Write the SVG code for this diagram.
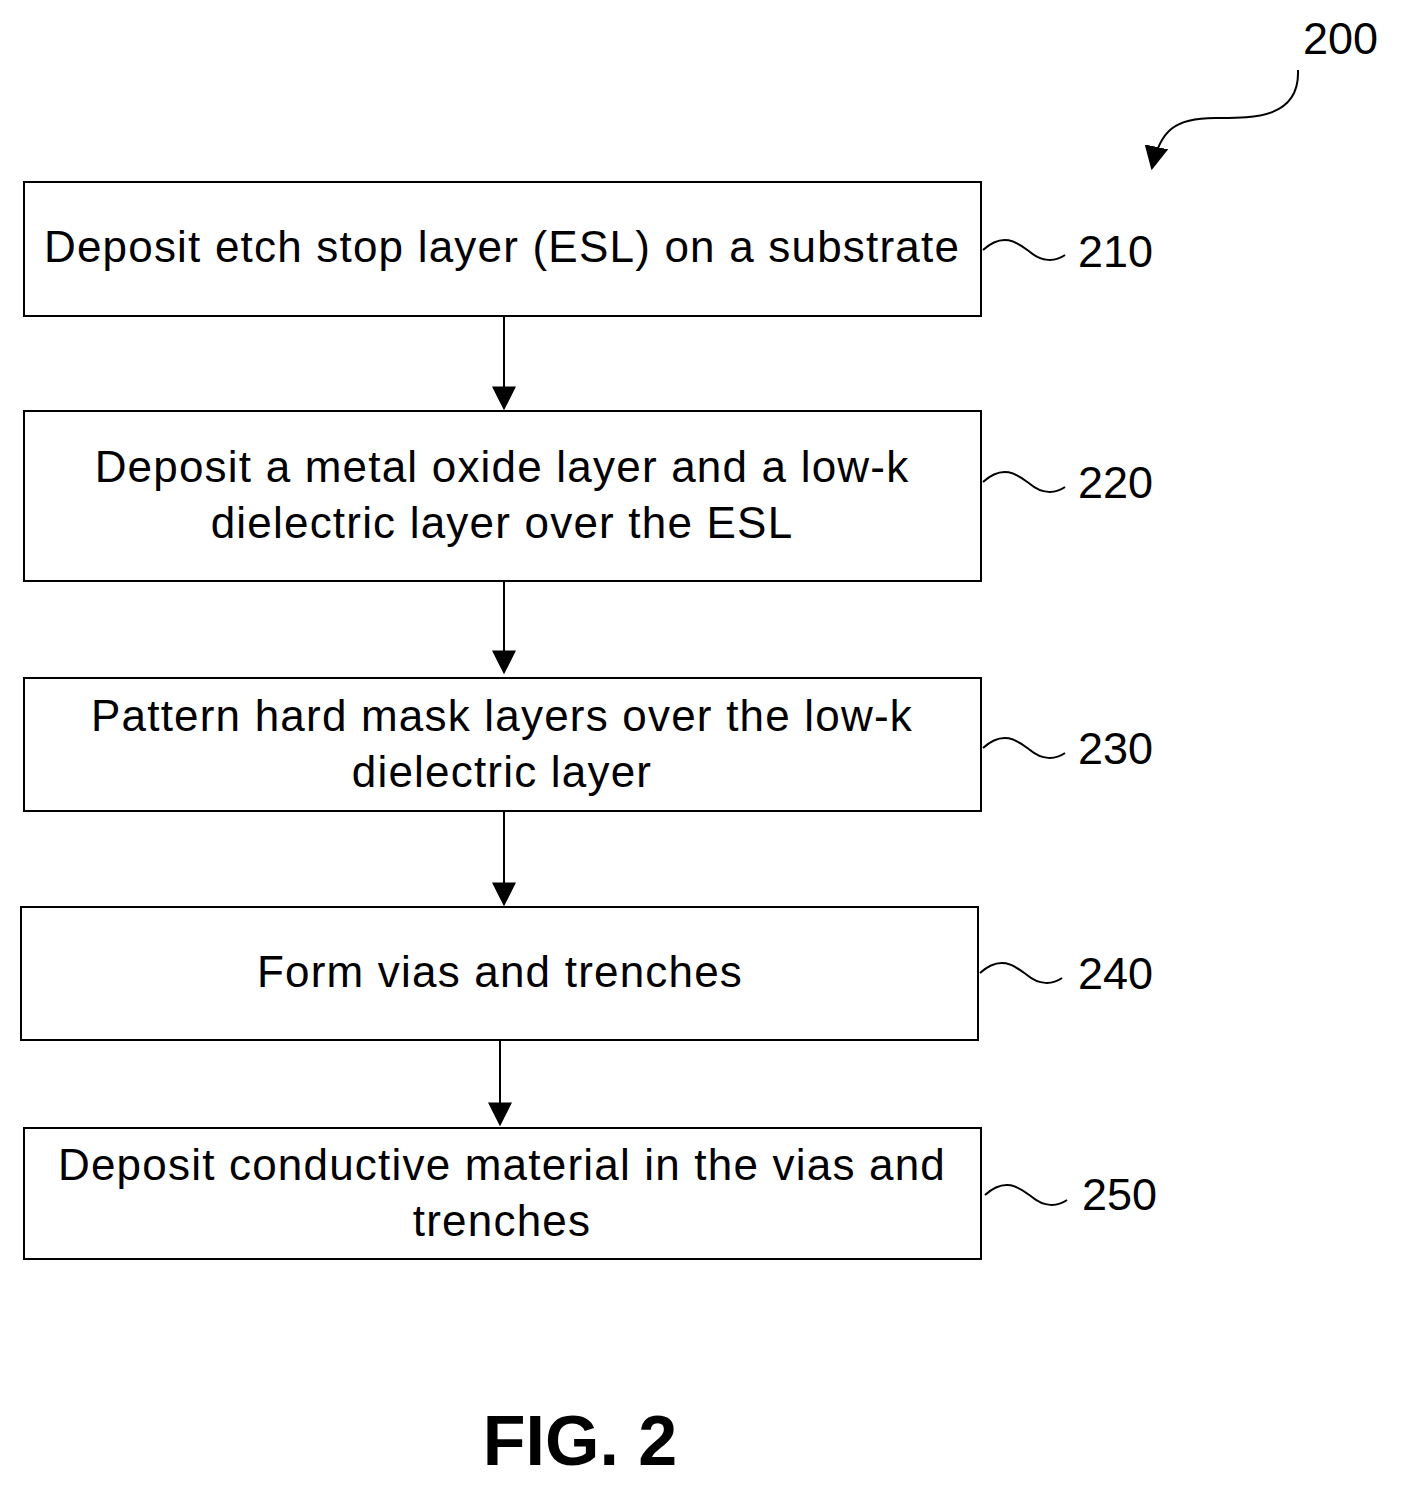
<svg xmlns="http://www.w3.org/2000/svg" width="1401" height="1486" viewBox="0 0 1401 1486">
<style>
.box{fill:#fff;stroke:#000;stroke-width:2}
.t{font-family:"Liberation Sans",Arial,sans-serif;font-size:44px;letter-spacing:1.2px;fill:#000;text-anchor:middle}
.lbl{font-family:"Liberation Sans",Arial,sans-serif;font-size:45px;fill:#000}
.ln{fill:none;stroke:#000;stroke-width:2}
</style>
<defs>
<marker id="ah2" viewBox="0 0 10 10" refX="9" refY="5" markerWidth="24" markerHeight="24" markerUnits="userSpaceOnUse" orient="auto"><path d="M0,0 L10,5 L0,10 z"/></marker>
</defs>
<rect width="1401" height="1486" fill="#fff"/>
<g id="n210"><rect class="box" x="24" y="182" width="957" height="134"/><text class="t" x="502" y="262">Deposit etch stop layer (ESL) on a substrate</text></g>
<g id="n220"><rect class="box" x="24" y="411" width="957" height="170"/><text class="t" x="502" y="482">Deposit a metal oxide layer and a low-k</text><text class="t" x="502" y="538">dielectric layer over the ESL</text></g>
<g id="n230"><rect class="box" x="24" y="678" width="957" height="133"/><text class="t" x="502" y="731">Pattern hard mask layers over the low-k</text><text class="t" x="502" y="787">dielectric layer</text></g>
<g id="n240"><rect class="box" x="21" y="907" width="957" height="133"/><text class="t" x="500" y="987">Form vias and trenches</text></g>
<g id="n250"><rect class="box" x="24" y="1128" width="957" height="131"/><text class="t" x="502" y="1180">Deposit conductive material in the vias and</text><text class="t" x="502" y="1236">trenches</text></g>
<g id="connectors">
<line class="ln" x1="504" y1="316" x2="504" y2="408" marker-end="url(#ah2)"/>
<line class="ln" x1="504" y1="581" x2="504" y2="672" marker-end="url(#ah2)"/>
<line class="ln" x1="504" y1="811" x2="504" y2="904" marker-end="url(#ah2)"/>
<line class="ln" x1="500" y1="1040" x2="500" y2="1124" marker-end="url(#ah2)"/>
<path class="ln" d="M983,250 C1005,230 1020,245 1030,252 C1042,262 1055,262 1065,255"/>
<path class="ln" d="M983,482 C1005,462 1020,477 1030,484 C1042,494 1055,494 1065,487"/>
<path class="ln" d="M983,748 C1005,728 1020,743 1030,750 C1042,760 1055,760 1065,753"/>
<path class="ln" d="M980,973 C1002,953 1017,968 1027,975 C1039,985 1052,985 1062,978"/>
<path class="ln" d="M985,1195 C1007,1175 1022,1190 1032,1197 C1044,1207 1057,1207 1067,1200"/>
<path class="ln" d="M1298,70 C1300,120 1250,118 1215,118 C1175,118 1160,130 1152,168" marker-end="url(#ah2)"/>
</g>
<text class="lbl" x="1078" y="267">210</text>
<text class="lbl" x="1078" y="498">220</text>
<text class="lbl" x="1078" y="764">230</text>
<text class="lbl" x="1078" y="989">240</text>
<text class="lbl" x="1082" y="1210">250</text>
<text class="lbl" x="1303" y="54">200</text>
<text x="580" y="1465" style="font-family:'Liberation Sans',Arial,sans-serif;font-size:70px;font-weight:bold;text-anchor:middle">FIG. 2</text>
</svg>
